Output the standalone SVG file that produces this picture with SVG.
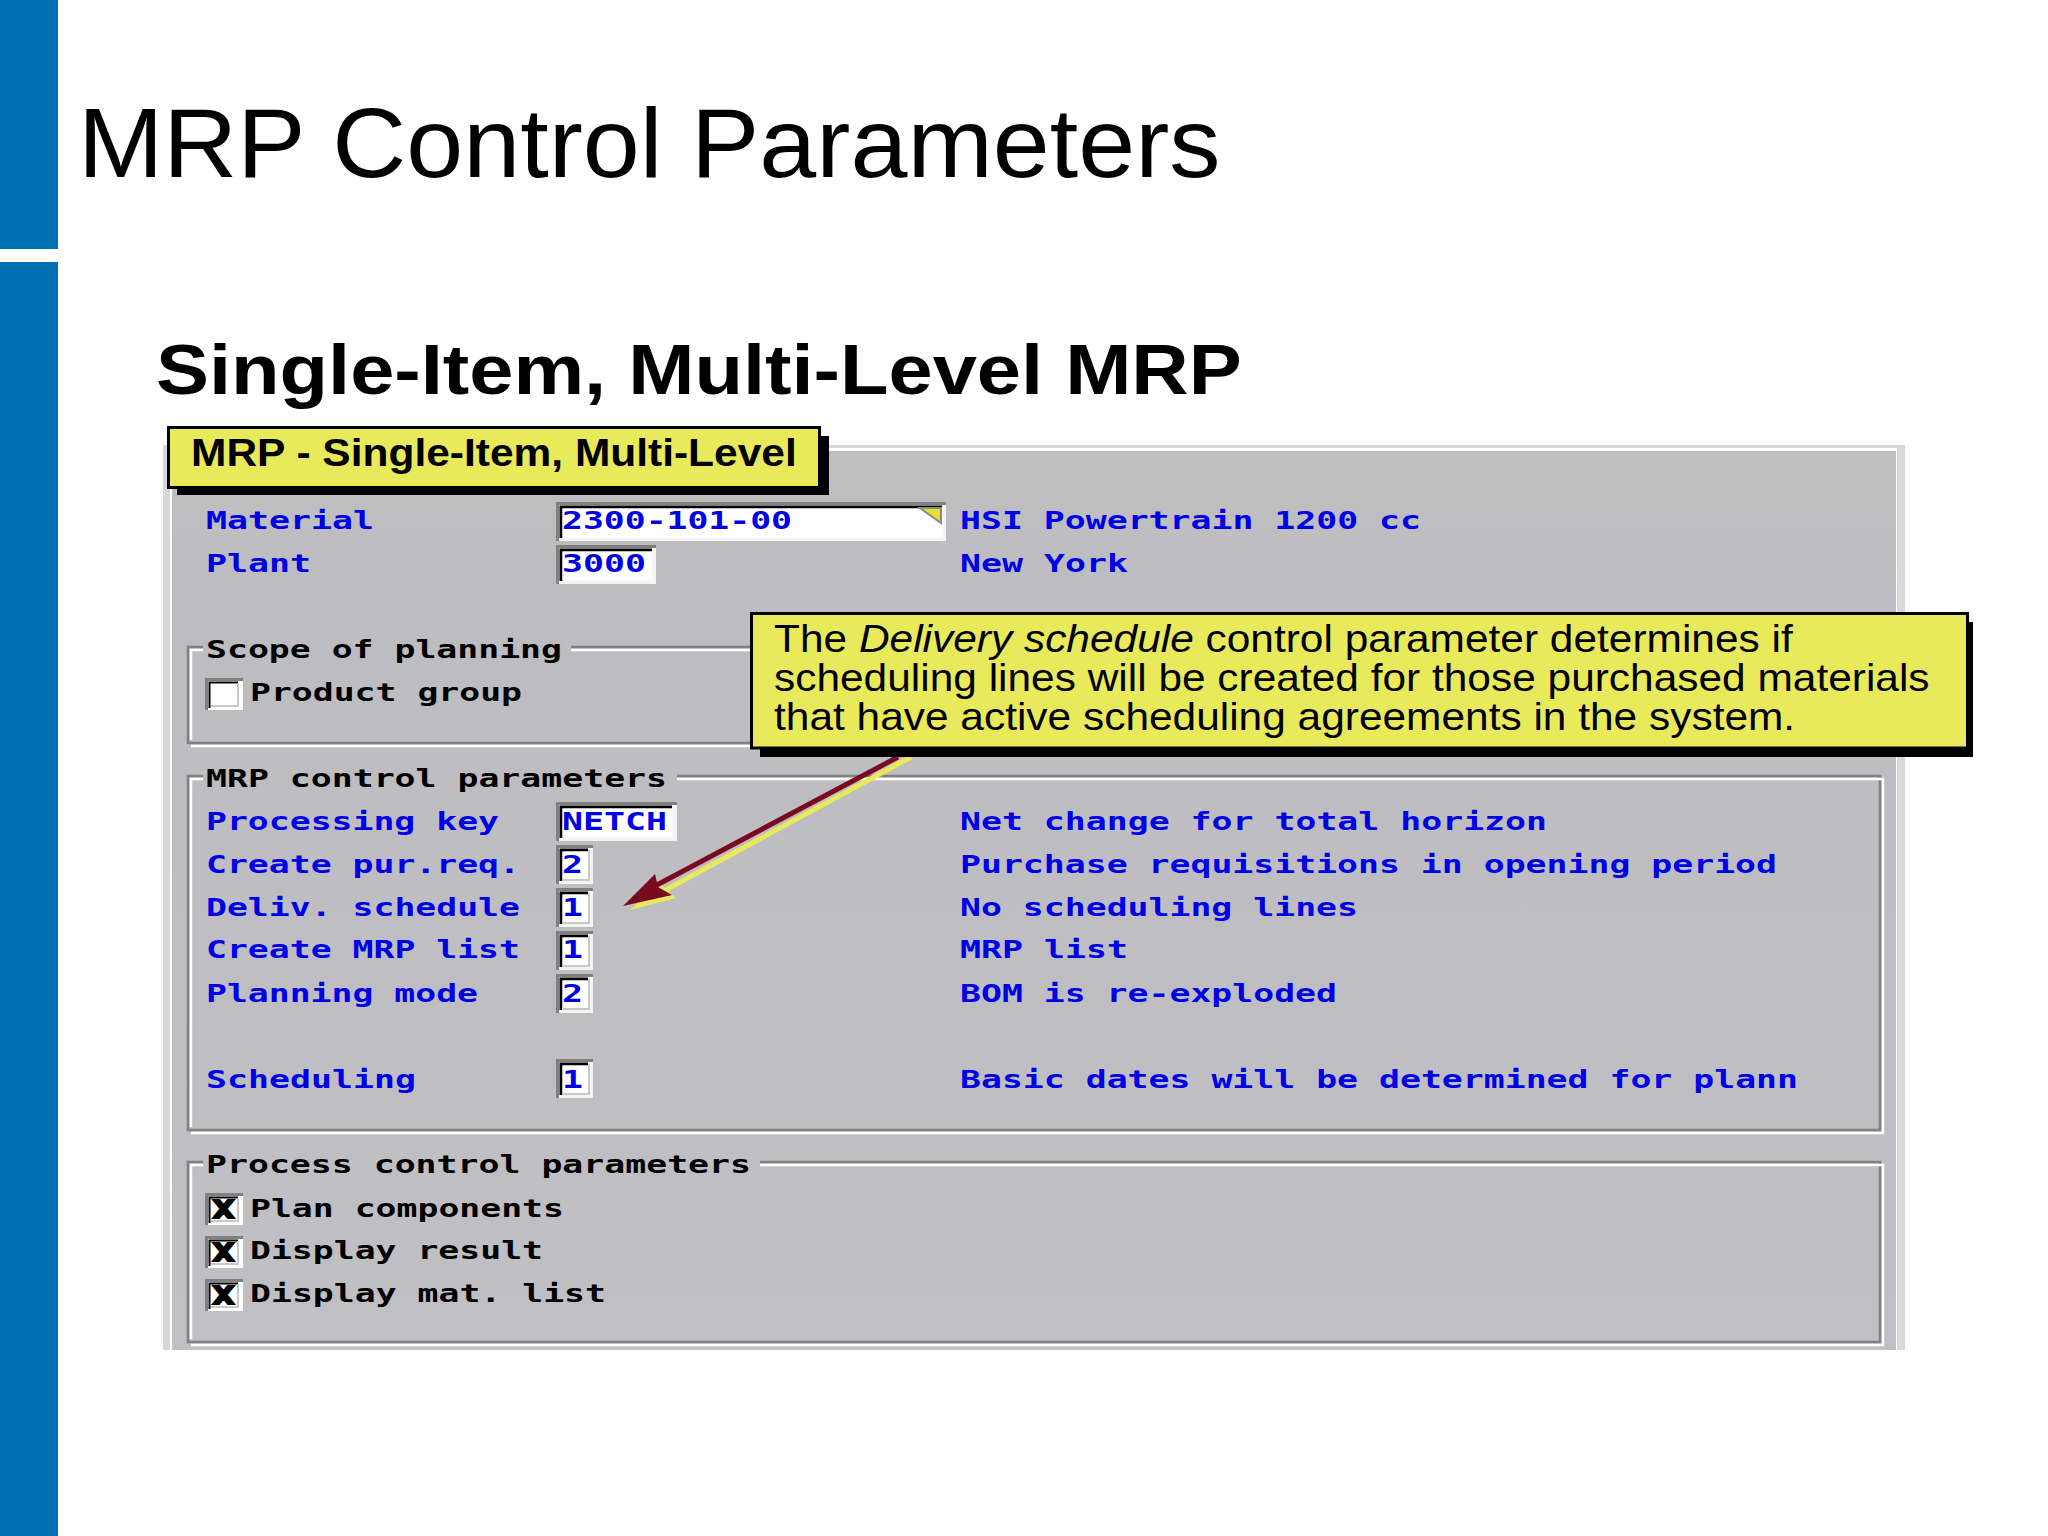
<svg xmlns="http://www.w3.org/2000/svg" width="2048" height="1536" viewBox="0 0 2048 1536">
<style>
.bar{fill:#0070b2}
.sans{font-family:"Liberation Sans",Arial,sans-serif;fill:#000}
.px{font-family:"DejaVu Sans Mono","Liberation Mono",monospace;font-weight:700;font-size:24px;transform:translateY(1px)}
.b{fill:#0000e6}
.k{fill:#000}
.x{stroke:#000;stroke-width:2}
.hi{fill:none;stroke:#fff;stroke-width:2.5}
.lo{fill:none;stroke:#808080;stroke-width:2.5}
.note{fill:#e8ea5c;stroke:#000;stroke-width:3}
.shadow{fill:#000}
.call{font-size:38px}
</style>
<defs>
<linearGradient id="panelfill" x1="0" y1="0" x2="0" y2="1">
<stop offset="0" stop-color="#c0bfbf"/>
<stop offset="0.15" stop-color="#bdbcc0"/>
<stop offset="1" stop-color="#c0bfc3"/>
</linearGradient>
<g id="cell">
<rect x="0" y="0" width="37" height="39" fill="#f4f4f4"/>
<path d="M1.5 39V1.5H37" fill="none" stroke="#808080" stroke-width="3"/>
<path d="M5 36V5H32" fill="none" stroke="#000" stroke-width="3"/>
<rect x="6.500" y="6.500" width="26" height="29" fill="#fff"/>
<path d="M33 5V35H6" fill="none" stroke="#c8c8c8" stroke-width="2"/>
</g>
<g id="check">
<rect x="0" y="0" width="38" height="32" fill="#fff"/>
<path d="M1.500 32V1.500H38" fill="none" stroke="#808080" stroke-width="3"/>
<path d="M4.500 30V4.500H33" fill="none" stroke="#000" stroke-width="2"/>
<path d="M33 5V28H6" fill="none" stroke="#c8c8c8" stroke-width="2"/>
</g>
</defs>
<rect width="2048" height="1536" fill="#fff"/>
<g id="sidebar">
<rect class="bar" x="0" y="0" width="58" height="249"/>
<rect class="bar" x="0" y="262" width="58" height="1274"/>
</g>
<text id="title" class="sans" transform="translate(78 177) scale(1.035 1)" font-size="99">MRP Control Parameters</text>
<text id="subtitle" class="sans" transform="translate(156 394) scale(1.135 1)" font-size="70" font-weight="700">Single-Item, Multi-Level MRP</text>

<g id="panel">
<rect x="163" y="445" width="1742" height="905" fill="#d8d8d8"/>
<rect x="170" y="448" width="1727" height="902" fill="#fff"/>
<rect x="172" y="451" width="1724" height="899" fill="url(#panelfill)"/>
</g>

<g id="group-scope">
<path class="lo" d="M203 647H188V743H1880V647H571"/>
<path class="hi" d="M203 650H191V740M191 746H1883V650H571"/>
<text class="px k" x="206" y="657" textLength="356" lengthAdjust="spacingAndGlyphs">Scope of planning</text>
</g>
<g id="group-mrp">
<path class="lo" d="M203 776H188V1130H1880V776H677"/>
<path class="hi" d="M203 779H191V1127M191 1133H1883V779H677"/>
<text class="px k" x="206" y="786" textLength="461" lengthAdjust="spacingAndGlyphs">MRP control parameters</text>
</g>
<g id="group-process">
<path class="lo" d="M203 1162H188V1342H1880V1162H760"/>
<path class="hi" d="M203 1165H191V1339M191 1345H1883V1165H760"/>
<text class="px k" x="206" y="1172" textLength="545" lengthAdjust="spacingAndGlyphs">Process control parameters</text>
</g>

<g id="row-material">
<text class="px b" x="206" y="528" textLength="168" lengthAdjust="spacingAndGlyphs">Material</text>
<rect x="556" y="502" width="390" height="39" fill="#f4f4f4"/>
<path d="M557.500 541V503.500H946" fill="none" stroke="#808080" stroke-width="3"/>
<path d="M561 538V507H942" fill="none" stroke="#000" stroke-width="3"/>
<rect x="562.500" y="508.500" width="380" height="29" fill="#fff"/>
<path d="M920 508H941V523Z" fill="#e8e030" stroke="#8a8a8a" stroke-width="2"/>
<text class="px b" x="562" y="528" textLength="230" lengthAdjust="spacingAndGlyphs">2300-101-00</text>
<text class="px b" x="960" y="528" textLength="461" lengthAdjust="spacingAndGlyphs">HSI Powertrain 1200 cc</text>
</g>
<g id="row-plant">
<text class="px b" x="206" y="571" textLength="105" lengthAdjust="spacingAndGlyphs">Plant</text>
<rect x="556" y="545" width="100" height="39" fill="#f4f4f4"/>
<path d="M557.500 584V546.500H656" fill="none" stroke="#808080" stroke-width="3"/>
<path d="M561 581V550H652" fill="none" stroke="#000" stroke-width="3"/>
<rect x="562.500" y="551.500" width="90" height="29" fill="#fff"/>
<text class="px b" x="562" y="571" textLength="84" lengthAdjust="spacingAndGlyphs">3000</text>
<text class="px b" x="960" y="571" textLength="168" lengthAdjust="spacingAndGlyphs">New York</text>
</g>
<g id="row-product-group">
<use href="#check" x="205" y="678"/>
<text class="px k" x="250" y="700" textLength="272" lengthAdjust="spacingAndGlyphs">Product group</text>
</g>

<g id="row-processing-key">
<text class="px b" x="206" y="829" textLength="293" lengthAdjust="spacingAndGlyphs">Processing key</text>
<rect x="556" y="802" width="121" height="39" fill="#f4f4f4"/>
<path d="M557.500 841V803.500H677" fill="none" stroke="#808080" stroke-width="3"/>
<path d="M561 838V807H672" fill="none" stroke="#000" stroke-width="3"/>
<rect x="562.500" y="808.500" width="110" height="29" fill="#fff"/>
<text class="px b" x="562" y="829" textLength="105" lengthAdjust="spacingAndGlyphs">NETCH</text>
<text class="px b" x="960" y="829" textLength="587" lengthAdjust="spacingAndGlyphs">Net change for total horizon</text>
</g>
<g id="row-create-pur-req">
<text class="px b" x="206" y="872" textLength="314" lengthAdjust="spacingAndGlyphs">Create pur.req.</text>
<use href="#cell" x="556" y="845"/>
<text class="px b" x="562" y="872" textLength="21" lengthAdjust="spacingAndGlyphs">2</text>
<text class="px b" x="960" y="872" textLength="817" lengthAdjust="spacingAndGlyphs">Purchase requisitions in opening period</text>
</g>
<g id="row-deliv-schedule">
<text class="px b" x="206" y="915" textLength="314" lengthAdjust="spacingAndGlyphs">Deliv. schedule</text>
<use href="#cell" x="556" y="888"/>
<text class="px b" x="562" y="915" textLength="21" lengthAdjust="spacingAndGlyphs">1</text>
<text class="px b" x="960" y="915" textLength="398" lengthAdjust="spacingAndGlyphs">No scheduling lines</text>
</g>
<g id="row-create-mrp-list">
<text class="px b" x="206" y="957" textLength="314" lengthAdjust="spacingAndGlyphs">Create MRP list</text>
<use href="#cell" x="556" y="931"/>
<text class="px b" x="562" y="957" textLength="21" lengthAdjust="spacingAndGlyphs">1</text>
<text class="px b" x="960" y="957" textLength="168" lengthAdjust="spacingAndGlyphs">MRP list</text>
</g>
<g id="row-planning-mode">
<text class="px b" x="206" y="1001" textLength="272" lengthAdjust="spacingAndGlyphs">Planning mode</text>
<use href="#cell" x="556" y="974"/>
<text class="px b" x="562" y="1001" textLength="21" lengthAdjust="spacingAndGlyphs">2</text>
<text class="px b" x="960" y="1001" textLength="377" lengthAdjust="spacingAndGlyphs">BOM is re-exploded</text>
</g>
<g id="row-scheduling">
<text class="px b" x="206" y="1087" textLength="210" lengthAdjust="spacingAndGlyphs">Scheduling</text>
<use href="#cell" x="556" y="1059"/>
<text class="px b" x="562" y="1087" textLength="21" lengthAdjust="spacingAndGlyphs">1</text>
<text class="px b" x="960" y="1087" textLength="838" lengthAdjust="spacingAndGlyphs">Basic dates will be determined for plann</text>
</g>

<g id="row-plan-components">
<use href="#check" x="205" y="1193"/>
<text class="px k x" x="213" y="1217" textLength="21" lengthAdjust="spacingAndGlyphs">X</text>
<text class="px k" x="250" y="1216" textLength="314" lengthAdjust="spacingAndGlyphs">Plan components</text>
</g>
<g id="row-display-result">
<use href="#check" x="205" y="1236"/>
<text class="px k x" x="213" y="1260" textLength="21" lengthAdjust="spacingAndGlyphs">X</text>
<text class="px k" x="250" y="1258" textLength="293" lengthAdjust="spacingAndGlyphs">Display result</text>
</g>
<g id="row-display-mat-list">
<use href="#check" x="205" y="1279"/>
<text class="px k x" x="213" y="1303" textLength="21" lengthAdjust="spacingAndGlyphs">X</text>
<text class="px k" x="250" y="1301" textLength="356" lengthAdjust="spacingAndGlyphs">Display mat. list</text>
</g>

<g id="connectors">
<path d="M911 757L660 893" fill="none" stroke="#e8ea5c" stroke-width="5"/>
<path d="M630 910L658 882L676 898Z" fill="#e8ea5c"/>
<path d="M898 757L655 886" fill="none" stroke="#7a0a20" stroke-width="5"/>
<path d="M623 906L655 874L658 887L672 895Z" fill="#7a0a20"/>
</g>

<g id="tab-title">
<rect class="shadow" x="177" y="436" width="652" height="59"/>
<rect class="note" x="168.500" y="427.500" width="651" height="60"/>
<text class="sans" transform="translate(191 466) scale(1.118 1)" font-size="38" font-weight="700">MRP - Single-Item, Multi-Level</text>
</g>
<g id="callout">
<rect class="shadow" x="760" y="622" width="1213" height="135"/>
<rect class="note" x="751.500" y="613.500" width="1216" height="134.500"/>
<text class="sans call" transform="translate(774 652) scale(1.117 1)">The <tspan font-style="italic">Delivery schedule</tspan> control parameter determines if</text>
<text class="sans call" transform="translate(774 691) scale(1.117 1)">scheduling lines will be created for those purchased materials</text>
<text class="sans call" transform="translate(774 730) scale(1.117 1)">that have active scheduling agreements in the system.</text>
</g>
</svg>
